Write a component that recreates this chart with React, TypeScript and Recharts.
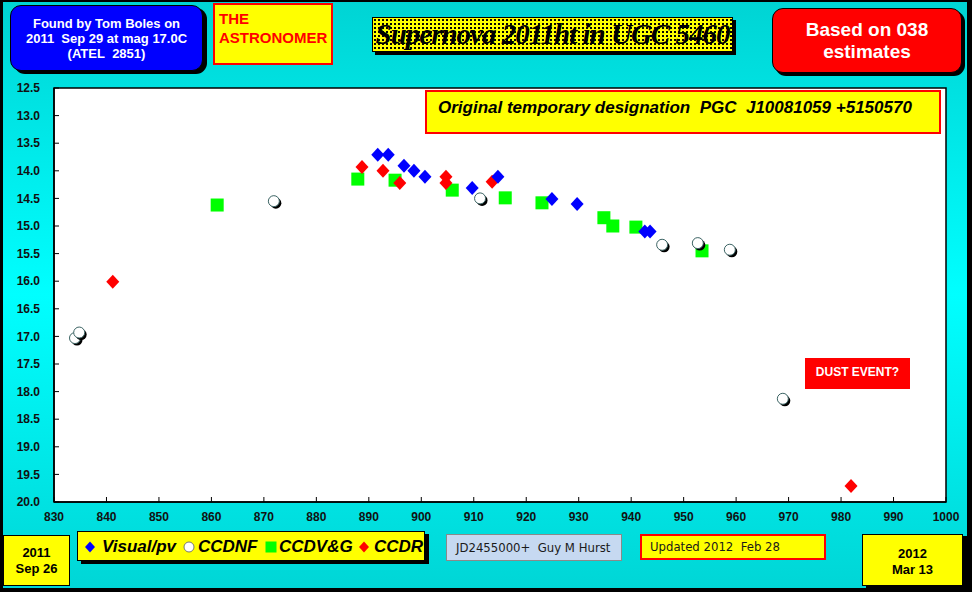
import React from 'react';
import { ScatterChart, Scatter, XAxis, YAxis, ReferenceArea } from 'recharts';

const xTicks = [830, 840, 850, 860, 870, 880, 890, 900, 910, 920, 930, 940, 950, 960, 970, 980, 990, 1000];
const yTicks = [12.5, 13, 13.5, 14, 14.5, 15, 15.5, 16, 16.5, 17, 17.5, 18, 18.5, 19, 19.5, 20];

// JD - 2455000, magnitude
const visualPv = [
  { jd: 891.7, mag: 13.71 },
  { jd: 893.7, mag: 13.71 },
  { jd: 896.7, mag: 13.91 },
  { jd: 898.6, mag: 14.0 },
  { jd: 900.7, mag: 14.11 },
  { jd: 909.7, mag: 14.31 },
  { jd: 914.6, mag: 14.11 },
  { jd: 924.9, mag: 14.51 },
  { jd: 929.7, mag: 14.6 },
  { jd: 942.6, mag: 15.1 },
  { jd: 943.6, mag: 15.1 },
];

const ccdNf = [
  { jd: 834.0, mag: 17.03 },
  { jd: 834.8, mag: 16.93 },
  { jd: 871.9, mag: 14.55 },
  { jd: 911.2, mag: 14.5 },
  { jd: 945.9, mag: 15.34 },
  { jd: 952.7, mag: 15.31 },
  { jd: 958.8, mag: 15.43 },
  { jd: 968.9, mag: 18.13 },
];

const ccdVG = [
  { jd: 861.1, mag: 14.62 },
  { jd: 887.9, mag: 14.15 },
  { jd: 895.0, mag: 14.17 },
  { jd: 905.9, mag: 14.35 },
  { jd: 916.0, mag: 14.49 },
  { jd: 923.0, mag: 14.58 },
  { jd: 934.8, mag: 14.85 },
  { jd: 936.5, mag: 15.0 },
  { jd: 940.9, mag: 15.02 },
  { jd: 953.5, mag: 15.45 },
];

const ccdR = [
  { jd: 841.2, mag: 16.01 },
  { jd: 888.7, mag: 13.93 },
  { jd: 892.7, mag: 14.0 },
  { jd: 895.9, mag: 14.22 },
  { jd: 904.7, mag: 14.11 },
  { jd: 904.7, mag: 14.22 },
  { jd: 913.5, mag: 14.2 },
  { jd: 981.9, mag: 19.71 },
];

const arial = '"Liberation Sans", Arial, sans-serif';
const narrow = '"Liberation Sans Narrow", "DejaVu Sans Condensed", "Liberation Sans", sans-serif';

const diamond = (color: string) => (props: any) => {
  const { cx, cy } = props;
  return <polygon points={`${cx},${cy - 7} ${cx + 6.5},${cy} ${cx},${cy + 7} ${cx - 6.5},${cy}`} fill={color} />;
};

const square = (props: any) => {
  const { cx, cy } = props;
  return <rect x={cx - 6.5} y={cy - 6.5} width={13} height={13} fill="#00ff00" />;
};

const ball = (props: any) => {
  const { cx, cy } = props;
  return (
    <g>
      <circle cx={cx + 2} cy={cy + 2} r={5.5} fill="#000" />
      <circle cx={cx} cy={cy} r={5.5} fill="#fff" stroke="#3c6464" strokeWidth={1} />
    </g>
  );
};

const box = (extra: React.CSSProperties): React.CSSProperties => ({
  position: 'absolute',
  boxSizing: 'border-box',
  ...extra,
});

const legendItems = [
  { kind: 'blue', label: 'Visual/pv', mark: 12, text: 24 },
  { kind: 'circle', label: 'CCDNF', mark: 111, text: 120 },
  { kind: 'square', label: 'CCDV&G', mark: 193, text: 201 },
  { kind: 'red', label: 'CCDR', mark: 286, text: 296 },
];

const LegendMark = ({ kind, left }: { kind: string; left: number }) => {
  let shape;
  if (kind === 'circle') {
    shape = <circle cx={7} cy={7} r={5} fill="#fff" stroke="#777" strokeWidth={1} />;
  } else if (kind === 'square') {
    shape = <rect x={1.5} y={1.5} width={11} height={11} fill="#00ff00" />;
  } else {
    shape = <polygon points="7,1.5 12,7 7,12.5 2,7" fill={kind === 'blue' ? '#0000ff' : '#ff0000'} />;
  }
  return (
    <svg width={14} height={14} style={{ position: 'absolute', left: left - 7, top: 8 }}>
      {shape}
    </svg>
  );
};

export default function App() {
  return (
    <div style={{ position: 'absolute', left: 0, top: 0, width: 972, height: 592, background: '#000', overflow: 'hidden' }}>
      <div
        style={{
          position: 'absolute',
          left: 3,
          top: 2,
          width: 964,
          height: 586,
          background: 'linear-gradient(to bottom, #00d4d4 0%, #00ffff 50%, #00d6d6 100%)',
        }}
      />
      <div style={{ position: 'absolute', left: 0, top: 0 }}>
        <ScatterChart width={972} height={592} margin={{ top: 88, right: 26, bottom: 70, left: 4 }}>
          <ReferenceArea x1={830} x2={1000} y1={12.5} y2={20} fill="#fff" fillOpacity={1} stroke="#000" strokeWidth={1.5} />
          <XAxis
            type="number"
            dataKey="jd"
            domain={[830, 1000]}
            ticks={xTicks}
            height={20}
            tickSize={-5}
            tickMargin={15}
            axisLine={{ stroke: '#000', strokeWidth: 1.5 }}
            tickLine={{ stroke: '#000' }}
            tick={{ fontSize: 12, fontWeight: 'bold', fill: '#111', fontFamily: arial }}
            interval={0}
          />
          <XAxis
            xAxisId="top"
            orientation="top"
            type="number"
            dataKey="jd"
            domain={[830, 1000]}
            ticks={xTicks}
            height={0}
            tickSize={-5}
            tickFormatter={() => ''}
            axisLine={{ stroke: '#000', strokeWidth: 1.5 }}
            tickLine={{ stroke: '#000' }}
            interval={0}
          />
          <YAxis
            type="number"
            dataKey="mag"
            domain={[12.5, 20]}
            reversed
            ticks={yTicks}
            width={50}
            tickSize={-5}
            tickMargin={19}
            tickFormatter={(v: number) => v.toFixed(1)}
            axisLine={{ stroke: '#000', strokeWidth: 1.5 }}
            tickLine={{ stroke: '#000' }}
            tick={{ fontSize: 12, fontWeight: 'bold', fill: '#111', fontFamily: arial }}
            interval={0}
          />
          <Scatter name="CCDV&G" data={ccdVG} shape={square} isAnimationActive={false} />
          <Scatter name="CCDNF" data={ccdNf} shape={ball} isAnimationActive={false} />
          <Scatter name="CCDR" data={ccdR} shape={diamond('#ff0000')} isAnimationActive={false} />
          <Scatter name="Visual/pv" data={visualPv} shape={diamond('#0000ff')} isAnimationActive={false} />
        </ScatterChart>
      </div>

      {/* header boxes */}
      <div
        style={box({
          left: 10, top: 5, width: 193, height: 66, background: '#0000ff', border: '1px solid #000', borderRadius: 11,
          boxShadow: '4px 3px 0 #000', color: '#fff', fontFamily: arial, fontWeight: 'bold', fontSize: 13,
          lineHeight: '15px', textAlign: 'center', paddingTop: 10,
        })}
      >
        Found by Tom Boles on<br />2011&nbsp; Sep 29 at mag 17.0C<br />(ATEL&nbsp; 2851)
      </div>
      <div
        style={box({
          left: 213, top: 3, width: 120, height: 62, background: '#ffff00', border: '2px solid #ff0000',
          color: '#ff0000', fontFamily: arial, fontWeight: 'bold', fontSize: 15, lineHeight: '19px', paddingLeft: 4, paddingTop: 4,
        })}
      >
        THE<br />ASTRONOMER
      </div>
      <div
        style={box({
          left: 372, top: 17, width: 361, height: 35, border: '1px solid #000', boxShadow: '3px 3px 0 #000',
          background: 'radial-gradient(circle, #000 0.7px, transparent 1px) 0 0 / 4px 4px, #ffff00',
          fontFamily: '"Liberation Serif", "Times New Roman", serif', fontStyle: 'italic', fontWeight: 'bold',
          fontSize: 29, lineHeight: '33px', textAlign: 'center', color: '#000', letterSpacing: -1, whiteSpace: 'nowrap',
        })}
      >
        Supernova 2011ht in UGC 5460
      </div>
      <div
        style={box({
          left: 772, top: 8, width: 190, height: 65, background: '#ff0000', border: '1px solid #000', borderRadius: 11,
          boxShadow: '3px 3px 0 #000', color: '#fff', fontFamily: arial, fontWeight: 'bold', fontSize: 19,
          lineHeight: '22px', textAlign: 'center', paddingTop: 10,
        })}
      >
        Based on 038<br />estimates
      </div>

      {/* annotations inside plot */}
      <div
        style={box({
          left: 425, top: 90, width: 516, height: 44, background: '#ffff00', border: '2px solid #ff0000',
          fontFamily: arial, fontStyle: 'italic', fontWeight: 'bold', fontSize: 17, lineHeight: '30px',
          paddingLeft: 11, paddingTop: 1, whiteSpace: 'pre', color: '#000',
        })}
      >
        {'Original temporary designation  PGC  J10081059 +5150570'}
      </div>
      <div
        style={box({
          left: 805, top: 358, width: 105, height: 31, background: '#ff0000', color: '#fff', fontFamily: arial,
          fontWeight: 'bold', fontSize: 12, lineHeight: '29px', textAlign: 'center',
        })}
      >
        DUST EVENT?
      </div>

      {/* footer boxes */}
      <div
        style={box({
          left: 3, top: 535, width: 67, height: 51, background: '#ffff00', border: '1px solid #000',
          fontFamily: arial, fontWeight: 'bold', fontSize: 13, lineHeight: '16px', textAlign: 'center', paddingTop: 9, color: '#000',
        })}
      >
        2011<br />Sep 26
      </div>
      <div
        style={box({
          left: 77, top: 531, width: 348, height: 30, background: '#ffff00', border: '1px solid #000', boxShadow: '4px 3px 0 #000',
          fontFamily: arial, fontStyle: 'italic', fontWeight: 'bold', fontSize: 17, whiteSpace: 'nowrap', color: '#000',
        })}
      >
        {legendItems.map((it) => (
          <React.Fragment key={it.label}>
            <LegendMark kind={it.kind} left={it.mark} />
            <span style={{ position: 'absolute', left: it.text, top: 0, lineHeight: '30px' }}>{it.label}</span>
          </React.Fragment>
        ))}
      </div>
      <div
        style={box({
          left: 446, top: 534, width: 176, height: 27, background: '#c6d9f1', border: '1px solid #8a8a8a',
          fontFamily: narrow, fontSize: 13, lineHeight: '25px', paddingLeft: 9, whiteSpace: 'pre', color: '#1a1a1a',
        })}
      >
        {'JD2455000+  Guy M Hurst'}
      </div>
      <div
        style={box({
          left: 640, top: 534, width: 186, height: 26, background: '#ffff00', border: '2px solid #ff0000',
          fontFamily: narrow, fontSize: 13, lineHeight: '22px', paddingLeft: 8, whiteSpace: 'pre', color: '#1a1a1a',
        })}
      >
        {'Updated 2012  Feb 28'}
      </div>
      <div
        style={box({
          left: 862, top: 534, width: 101, height: 52, background: '#ffff00', border: '1px solid #000', boxShadow: '4px 2px 0 #000',
          fontFamily: arial, fontWeight: 'bold', fontSize: 13, lineHeight: '16px', textAlign: 'center', paddingTop: 11, color: '#000',
        })}
      >
        2012<br />Mar 13
      </div>
    </div>
  );
}
